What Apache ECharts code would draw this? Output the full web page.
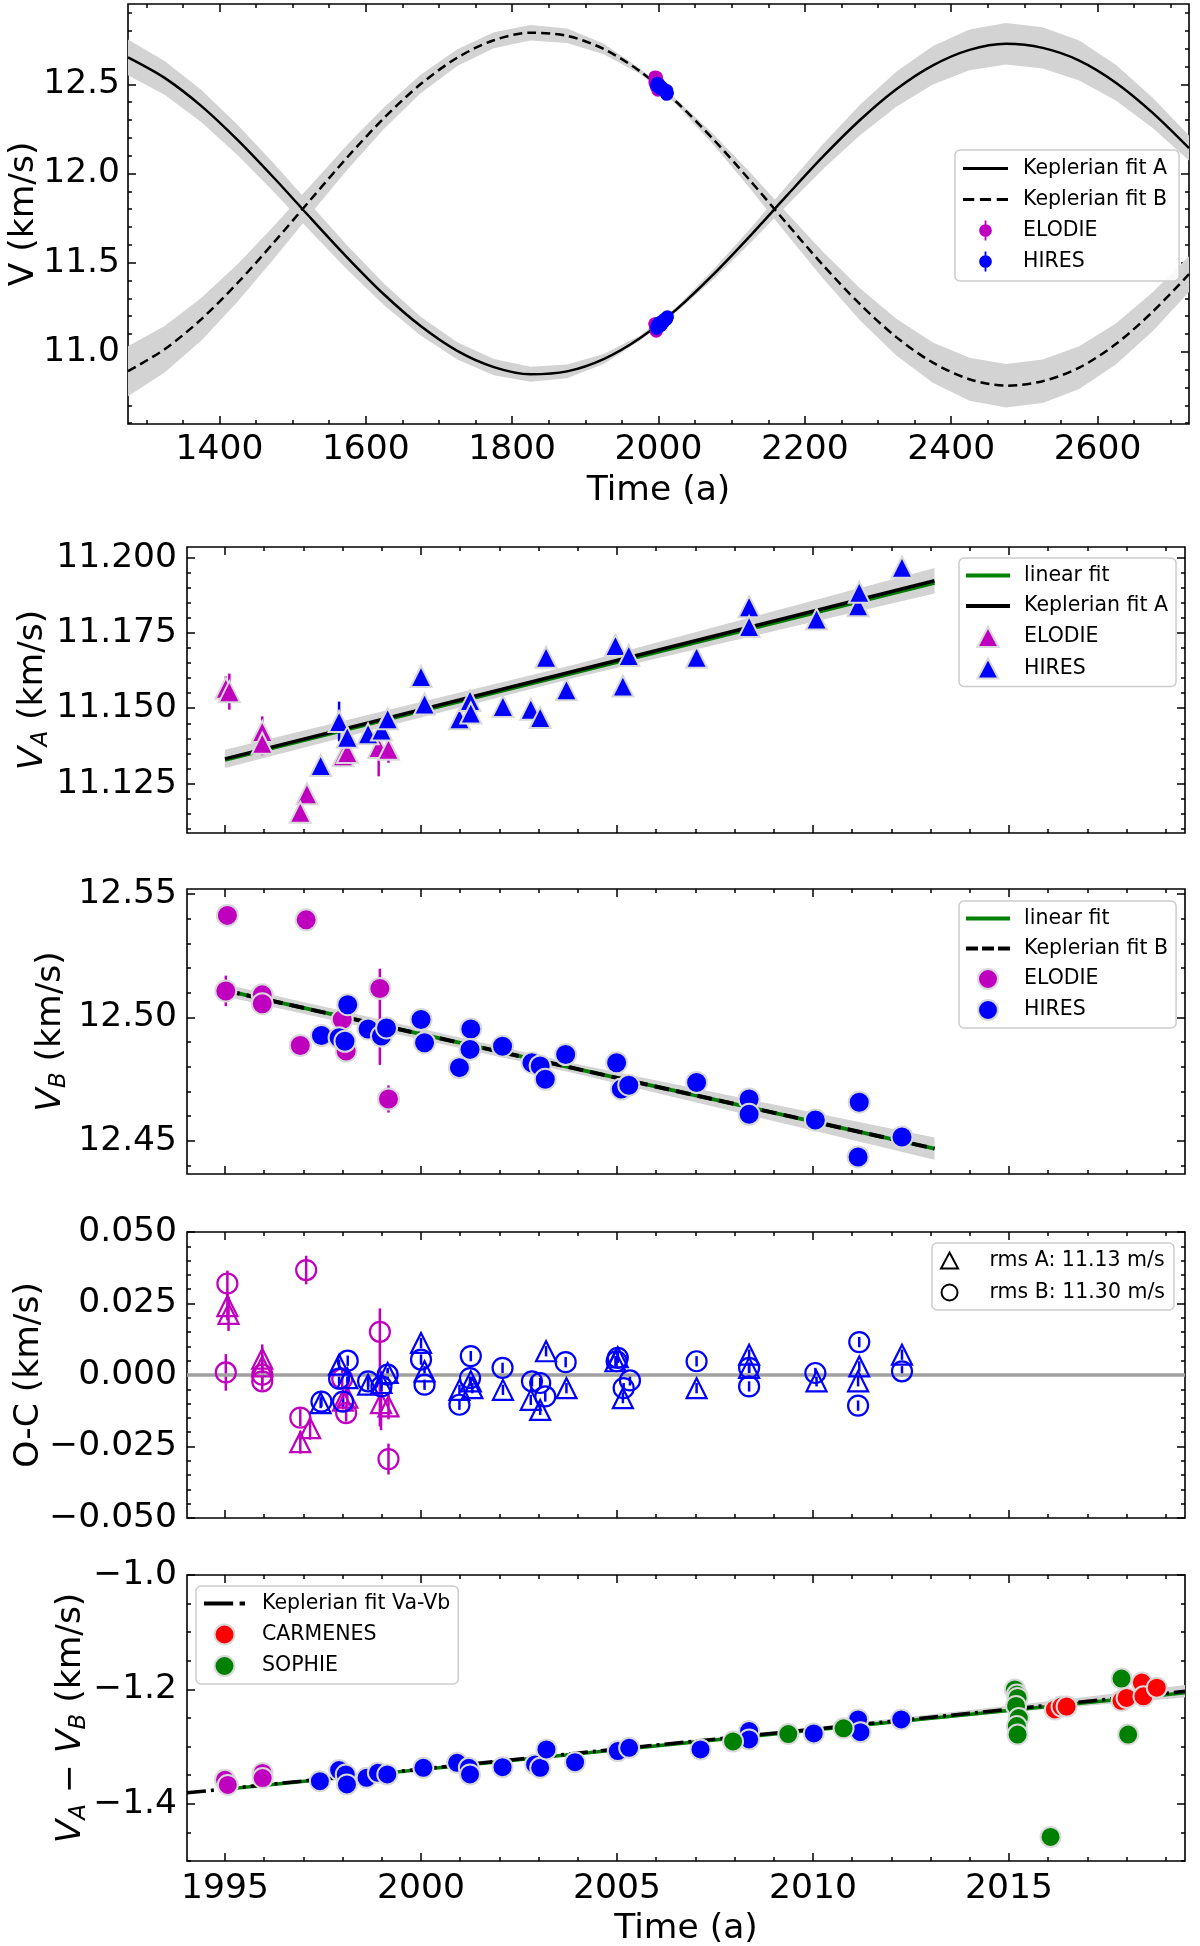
<!DOCTYPE html>
<html><head><meta charset="utf-8">
<script src="https://cdn.jsdelivr.net/npm/echarts@6/dist/echarts.min.js"></script>
<style>html,body{margin:0;padding:0;background:#fff}#c{width:1200px;height:1946px}</style>
</head><body><div id="c"></div>
<script>
// ---------------- Panel 1 : full Keplerian orbits ----------------
const p1Time  = [1275,1325,1375,1425,1475,1525,1575,1625,1675,1725,1775,1825,1875,1925,1975,2025,2075,2125,2175,2225,2275,2325,2375,2425,2475,2525,2575,2625,2675,2725];
const p1KepA  = [12.651,12.536,12.379,12.187,11.973,11.748,11.527,11.321,11.144,11.005,10.914,10.874,10.890,10.959,11.077,11.239,11.434,11.649,11.874,12.095,12.298,12.472,12.606,12.693,12.727,12.704,12.633,12.509,12.341,12.142];
const p1KepB  = [10.891,11.014,11.182,11.387,11.616,11.855,12.092,12.311,12.501,12.649,12.747,12.789,12.772,12.698,12.572,12.399,12.191,11.961,11.721,11.485,11.268,11.082,10.939,10.846,10.810,10.835,10.911,11.043,11.223,11.435];
const p1BandA = [0.100,0.095,0.090,0.085,0.080,0.075,0.068,0.060,0.053,0.048,0.045,0.042,0.038,0.028,0.014,0.014,0.027,0.040,0.055,0.070,0.085,0.098,0.108,0.114,0.116,0.116,0.112,0.100,0.085,0.070];
const p1BandB = [0.140,0.130,0.120,0.105,0.092,0.080,0.070,0.060,0.052,0.047,0.045,0.043,0.040,0.030,0.015,0.015,0.030,0.045,0.060,0.075,0.090,0.103,0.113,0.120,0.122,0.122,0.120,0.115,0.110,0.100];

// ---------------- Panel 2 : V_A ----------------
const vaElodieT = [1995.02,1995.11,1995.95,1995.95,1997.09,1996.92,1998.01,1998.12,1998.92,1999.17];
const vaElodieV = [11.1566,11.1555,11.1423,11.1384,11.1216,11.1155,11.1342,11.1353,11.1370,11.1364];
const vaElodieE = [0.004,0.006,0.005,0.004,0.003,0.003,0.003,0.003,[0.0096,0.004],0.0045];
const vaHiresT = [1997.44,1997.91,1998.12,1998.65,1998.99,1999.15,2000.00,2000.09,2000.98,2001.25,2001.27,2002.09,2002.80,2003.04,2003.19,2003.71,2004.96,2005.30,2005.15,2007.03,2008.37,2008.37,2010.09,2011.15,2011.18,2012.27];
const vaHiresV = [11.1310,11.1456,11.1404,11.1415,11.1428,11.1465,11.1605,11.1514,11.1465,11.1526,11.1484,11.1506,11.1497,11.1469,11.1669,11.1561,11.1708,11.1675,11.1574,11.1669,11.1837,11.1771,11.1796,11.1840,11.1885,11.1968];
const vaHiresE = [0.0017,0.0066,0.0017,0.0017,0.0017,0.0017,0.0017,0.0017,0.0017,0.0017,0.0017,0.0017,0.0017,0.0017,0.0017,0.0017,0.0017,0.0017,0.0017,0.0017,0.0017,0.0017,0.0017,0.0017,0.0017,0.0017];
const vaFitT = [1995.0,2004.0,2013.1];
const vaKep  = [11.1332,11.1626,11.1923];
const vaLin  = [11.1329,11.1621,11.1916];
const vaBandH = [0.0030,0.0022,0.0042];

// ---------------- Panel 3 : V_B ----------------
const vbElodieT = [1995.06,1997.07,1995.02,1995.95,1995.95,1996.92,1997.99,1998.09,1998.95,1999.17];
const vbElodieV = [12.5413,12.5395,12.5107,12.5091,12.5055,12.4886,12.4991,12.4863,12.5117,12.4669];
const vbElodieE = [0.003,0.003,0.0062,0.003,0.003,0.003,0.003,0.003,[0.031,0.008],0.0055];
const vbHiresT = [1997.46,1998.13,1997.91,1998.06,1998.65,1998.99,1999.12,2000.00,2000.09,2000.98,2001.27,2001.25,2002.08,2002.83,2003.04,2003.17,2003.69,2004.99,2005.11,2005.30,2007.03,2008.37,2008.37,2010.06,2011.18,2011.15,2012.27];
const vbHiresV = [12.4926,12.5051,12.4917,12.4903,12.4953,12.4924,12.4957,12.4991,12.4897,12.4796,12.4953,12.4870,12.4883,12.4816,12.4803,12.4749,12.4849,12.4816,12.4709,12.4725,12.4736,12.4669,12.4607,12.4584,12.4656,12.4434,12.4515];
const vbHiresE = [0.0017,0.0017,0.0017,0.0017,0.0017,0.0017,0.0017,0.0017,0.0017,0.0017,0.0017,0.0017,0.0017,0.0017,0.0017,0.0017,0.0017,0.0017,0.0017,0.0017,0.0017,0.0017,0.0017,0.0017,0.0017,0.0017,0.0017];
const vbFitT = [1995.0,2004.0,2013.1];
const vbKep  = [12.5109,12.4790,12.4468];
const vbLin  = [12.5109,12.4790,12.4468];
const vbBandH = [0.0025,0.0020,0.0045];

// ---------------- Panel 4 : O-C ----------------
const ocElodieAT = [1995.06,1995.09,1995.95,1995.95,1997.17,1996.92,1998.01,1998.12,1998.98,1999.17];
const ocElodieAV = [0.0241,0.0214,0.0057,0.0030,-0.0186,-0.0235,-0.0090,-0.0079,-0.0098,-0.0110];
const ocElodieAE = [0.005,0.006,0.005,0.004,0.004,0.004,0.003,0.003,0.0095,0.0045];
const ocElodieBT = [1995.06,1997.07,1995.02,1995.95,1995.95,1996.92,1997.99,1998.09,1998.95,1999.17];
const ocElodieBV = [0.0320,0.0367,0.0009,0.0001,-0.0022,-0.0149,-0.0013,-0.0133,0.0151,-0.0294];
const ocElodieBE = [0.0045,0.005,0.0064,0.003,0.003,0.003,0.003,0.003,[0.0331,0.0082],0.0054];
const ocHiresAT = [1997.91,1997.44,1998.12,1998.65,1998.99,1999.15,2000.00,2000.09,2000.98,2001.27,2001.31,2002.09,2002.80,2003.04,2003.19,2003.71,2004.96,2005.02,2005.15,2007.03,2008.37,2008.37,2010.09,2011.15,2011.18,2012.27];
const ocHiresAV = [0.0036,-0.0098,-0.0011,-0.0034,-0.0028,0.0007,0.0112,0.0013,-0.0052,-0.0022,-0.0046,-0.0052,-0.0087,-0.0122,0.0083,-0.0046,0.0048,0.0062,-0.0081,-0.0046,0.0071,0.0025,-0.0022,-0.0022,0.0030,0.0071];
const ocHiresBT = [1997.46,1998.13,1997.91,1998.01,1998.65,1998.99,1999.15,2000.00,2000.09,2000.98,2001.27,2001.25,2002.08,2002.83,2003.04,2003.17,2003.69,2004.99,2005.02,2005.17,2005.33,2007.03,2008.37,2008.37,2010.06,2011.18,2011.15,2012.27];
const ocHiresBV = [-0.0093,0.0050,-0.0013,-0.0093,-0.0022,-0.0040,0.0001,0.0054,-0.0034,-0.0104,0.0066,-0.0011,0.0025,-0.0022,-0.0028,-0.0075,0.0045,0.0048,0.0060,-0.0046,-0.0019,0.0048,0.0025,-0.0040,0.0007,0.0115,-0.0107,0.0013];
const ocHiresErr = 0.0018;
const zeroT = [1994.03,2019.49];
const zeroV = [0,0];

// ---------------- Panel 5 : V_A - V_B ----------------
const dElodieT = [1995.00,1995.07,1995.96,1995.96];
const dElodieV = [-1.358,-1.367,-1.346,-1.355];
const dHiresT = [1997.42,1997.91,1998.08,1998.11,1998.61,1998.90,1999.14,2000.06,2000.92,2001.22,2001.25,2002.08,2002.91,2003.04,2003.20,2003.93,2005.02,2005.31,2007.13,2008.37,2008.37,2010.02,2011.15,2011.21,2012.25];
const dHiresV = [-1.3604,-1.3411,-1.3487,-1.3662,-1.3546,-1.3458,-1.3487,-1.3371,-1.3283,-1.3371,-1.3487,-1.3359,-1.3312,-1.3371,-1.3050,-1.3272,-1.3079,-1.3021,-1.3050,-1.2729,-1.2875,-1.2770,-1.2525,-1.2747,-1.2525];
const dSophieT = [2007.96,2009.37,2010.78,2015.15,2015.20,2015.22,2015.18,2015.25,2015.20,2015.22,2016.06,2017.87,2018.04];
const dSophieV = [-1.291,-1.278,-1.268,-1.200,-1.209,-1.215,-1.229,-1.250,-1.264,-1.279,-1.458,-1.181,-1.279];
const dCarmT = [2016.17,2016.34,2016.47,2017.87,2018.00,2018.39,2018.43,2018.77];
const dCarmV = [-1.235,-1.230,-1.230,-1.220,-1.215,-1.188,-1.212,-1.197];
const dKepT = [1994.03,2005.0,2013.3,2019.49];
const dKep  = [-1.3808,-1.3043,-1.2468,-1.2033];
const dLinT = [1995.0,2019.49];
const dLin  = [-1.3745,-1.2060];
const dBandT = [2005.0,2012.0,2015.0,2017.0,2019.49];
const dBandC = [-1.3043,-1.2555,-1.2346,-1.2207,-1.2033];
const dBandH = [0.002,0.004,0.006,0.008,0.011];

// ---------------- ticks ----------------
const p1XTicks = [1400,1600,1800,2000,2200,2400,2600];
const p1YTicks = [11.0,11.5,12.0,12.5];
const timeTicks = [1995,2000,2005,2010,2015];
const vaTicks = [11.125,11.150,11.175,11.200];
const vbTicks = [12.45,12.50,12.55];
const ocTicks = [-0.050,-0.025,0,0.025,0.050];
const dTicks = [-1.4,-1.2,-1.0];

function steps(a, b, s) { const o = []; const n = Math.round((b - a) / s); for (let i = 0; i <= n; i++) o.push(+(a + i * s).toFixed(6)); return o; }

const FONT = 'DejaVu Sans';
const TICKFS = 34.5, NAMEFS = 34.5, LEGFS = 20.5;
const MAG = '#bf00bf', BLU = '#0000ff', GRN = '#008000', RED = '#ff0000', EDGE = '#d9d9d9', BAND = '#d3d3d3';

function fmt(n) { return v => (v < 0 ? '\u2212' + Math.abs(v).toFixed(n) : v.toFixed(n)); }

const gridBox = [
  {left:128, top:4, width:1061, height:420},
  {left:187, top:547, width:998, height:286},
  {left:187, top:889, width:998, height:285},
  {left:187, top:1232, width:998, height:286},
  {left:187, top:1575, width:998, height:286}
];
const grids = gridBox.map(g => Object.assign({}, g, {show:true, borderColor:'#000', borderWidth:1.6, backgroundColor:'transparent', containLabel:false, outerBoundsMode:'none'}));

const xAxes = [], yAxes = [];
function addAxes(list, g, dim, range, major, minor, o) {
  const pos = dim === 'x' ? ['bottom','top'] : ['left','right'];
  pos.forEach((p, pi) => {
    [true, false].forEach(isMajor => {
      const a = {type:'value', gridIndex:g, position:p, min:range[0], max:range[1],
        splitLine:{show:false}, axisLine:{show:false, onZero:false},
        axisTick:{show:true, inside:true, length: isMajor ? 8 : 4, customValues: isMajor ? major : minor, lineStyle:{color:'#000', width:1.5}},
        axisLabel:{show:false}, axisPointer:{show:false}, silent:true, nameMoveOverlap:false};
      if (pi === 0 && isMajor) {
        if (o.labels) a.axisLabel = {show:true, customValues: major, formatter:o.fmt, fontSize:TICKFS, fontFamily:FONT, color:'#000', margin:o.margin};
        if (o.name) {
          a.name = o.name; a.nameLocation = 'middle'; a.nameGap = o.nameGap;
          a.nameTextStyle = {fontSize:NAMEFS, fontFamily:FONT, color:'#000', lineHeight:36,
            rich:{i:{fontSize:NAMEFS, fontFamily:FONT, fontStyle:'italic', lineHeight:40, color:'#000'},
                  s:{fontSize:23, fontFamily:FONT, fontStyle:'italic', lineHeight:23, verticalAlign:'bottom', color:'#000'},
                  n:{fontSize:NAMEFS, fontFamily:FONT, lineHeight:40, color:'#000'}}};
        }
      }
      list.push(a);
    });
  });
}
const TR = [1994.03, 2019.49];
addAxes(xAxes, 0, 'x', [1275, 2725], p1XTicks, steps(1300, 2700, 50), {labels:true, fmt:v => String(v), margin:9, name:'Time (a)', nameGap:49});
addAxes(yAxes, 0, 'y', [10.595, 12.95], p1YTicks, steps(10.6, 12.9, 0.1), {labels:true, fmt:fmt(1), margin:8, name:'V (km/s)', nameGap:86});
addAxes(xAxes, 1, 'x', TR, timeTicks, steps(1995, 2019, 1), {labels:false});
addAxes(yAxes, 1, 'y', [11.1086, 11.2035], vaTicks, steps(11.110, 11.200, 0.005), {labels:true, fmt:fmt(3), margin:10, name:'{i|V}{s|A}{n| (km/s)}', nameGap:134});
addAxes(xAxes, 2, 'x', TR, timeTicks, steps(1995, 2019, 1), {labels:false});
addAxes(yAxes, 2, 'y', [12.4365, 12.552], vbTicks, steps(12.44, 12.55, 0.01), {labels:true, fmt:fmt(2), margin:10, name:'{i|V}{s|B}{n| (km/s)}', nameGap:116});
addAxes(xAxes, 3, 'x', TR, timeTicks, steps(1995, 2019, 1), {labels:false});
addAxes(yAxes, 3, 'y', [-0.05, 0.05], ocTicks, steps(-0.05, 0.05, 0.005), {labels:true, fmt:fmt(3), margin:10, name:'O-C (km/s)', nameGap:140});
addAxes(xAxes, 4, 'x', TR, timeTicks, steps(1995, 2019, 1), {labels:true, fmt:v => String(v), margin:11, name:'Time (a)', nameGap:50});
addAxes(yAxes, 4, 'y', [-1.5, -1.0], dTicks, steps(-1.5, -1.0, 0.05), {labels:true, fmt:fmt(1), margin:10, name:'{i|V}{s|A}{n| \u2212 }{i|V}{s|B}{n| (km/s)}', nameGap:96});

const series = [];
function ax(g) { return {xAxisIndex:4 * g, yAxisIndex:4 * g}; }
function zip(t, v) { return t.map((x, i) => [x, v[i]]); }
function lineS(g, name, t, v, color, width, type, smooth) {
  series.push(Object.assign({type:'line', name, data:zip(t, v), symbol:'none', showSymbol:false, smooth:smooth || false, clip:true, silent:true,
    lineStyle:{color, width, type:type || 'solid', cap:'butt'}, itemStyle:{color}, emphasis:{disabled:true}, z:2}, ax(g)));
}
function bandS(g, t, c, h) {
  const pts = t.map((x, i) => [x, c[i] - h[i], c[i] + h[i]]);
  series.push(Object.assign({type:'custom', clip:true, silent:true, z:2, data:[[t[0], c[0]]],
    renderItem:(p, api) => {
      const up = pts.map(q => api.coord([q[0], q[2]]));
      const lo = pts.map(q => api.coord([q[0], q[1]])).reverse();
      return {type:'polygon', shape:{points:up.concat(lo)}, style:{fill:BAND}};
    }}, ax(g)));
}
function errS(g, t, v, e, color, width) {
  const data = t.map((x, i) => {
    const ee = Array.isArray(e) ? e[i] : e;
    const lo = Array.isArray(ee) ? ee[0] : ee, hi = Array.isArray(ee) ? ee[1] : ee;
    return [x, v[i], v[i] - lo, v[i] + hi];
  });
  series.push(Object.assign({type:'custom', clip:true, silent:true, z:2, data, encode:{x:0, y:1},
    renderItem:(p, api) => {
      const a = api.coord([api.value(0), api.value(2)]);
      const b = api.coord([api.value(0), api.value(3)]);
      return {type:'line', shape:{x1:a[0], y1:a[1], x2:b[0], y2:b[1]}, style:{stroke:color, lineWidth:width}};
    }}, ax(g)));
}
function scatS(g, name, t, v, symbol, size, fill, stroke, bw) {
  series.push(Object.assign({type:'scatter', name, data:zip(t, v), symbol, symbolSize:size, clip:true, silent:true, z:2,
    itemStyle:{color:fill, borderColor:stroke, borderWidth:bw, opacity:1}, emphasis:{disabled:true}}, ax(g)));
}

// Panel 1
bandS(0, p1Time, p1KepA, p1BandA);
bandS(0, p1Time, p1KepB, p1BandB);
lineS(0, 'Keplerian fit A|1', p1Time, p1KepA, '#000', 2.5, 'solid', 0.3);
lineS(0, 'Keplerian fit B|1', p1Time, p1KepB, '#000', 2.5, [9, 5], 0.3);
errS(0, vaElodieT.concat(vbElodieT), vaElodieV.concat(vbElodieV), 0.004, MAG, 2);
scatS(0, 'ELODIE|1', vaElodieT.concat(vbElodieT), vaElodieV.concat(vbElodieV), 'circle', 13, MAG, MAG, 0);
errS(0, vaHiresT.concat(vbHiresT), vaHiresV.concat(vbHiresV), 0.004, BLU, 2);
scatS(0, 'HIRES|1', vaHiresT.concat(vbHiresT), vaHiresV.concat(vbHiresV), 'circle', 13, BLU, BLU, 0);

// Panel 2
bandS(1, vaFitT, vaKep, vaBandH);
lineS(1, 'linear fit|2', vaFitT, vaLin, GRN, 4);
lineS(1, 'Keplerian fit A|2', vaFitT, vaKep, '#000', 3.5);
errS(1, vaElodieT, vaElodieV, vaElodieE, MAG, 2.5);
scatS(1, 'ELODIE|2', vaElodieT, vaElodieV, 'triangle', 21, MAG, EDGE, 2);
errS(1, vaHiresT, vaHiresV, vaHiresE, BLU, 2.5);
scatS(1, 'HIRES|2', vaHiresT, vaHiresV, 'triangle', 21, BLU, EDGE, 2);

// Panel 3
bandS(2, vbFitT, vbKep, vbBandH);
lineS(2, 'linear fit|3', vbFitT, vbLin, GRN, 4);
lineS(2, 'Keplerian fit B|3', vbFitT, vbKep, '#000', 4, [15, 7]);
errS(2, vbElodieT, vbElodieV, vbElodieE, MAG, 2.5);
scatS(2, 'ELODIE|3', vbElodieT, vbElodieV, 'circle', 21, MAG, EDGE, 2);
errS(2, vbHiresT, vbHiresV, vbHiresE, BLU, 2.5);
scatS(2, 'HIRES|3', vbHiresT, vbHiresV, 'circle', 21, BLU, EDGE, 2);

// Panel 4
lineS(3, 'zero|4', zeroT, zeroV, '#a0a0a0', 3.5);
errS(3, ocElodieAT, ocElodieAV, ocElodieAE, MAG, 2.5);
scatS(3, 'elodieA|4', ocElodieAT, ocElodieAV, 'triangle', 20, 'rgba(0,0,0,0)', MAG, 2.2);
errS(3, ocElodieBT, ocElodieBV, ocElodieBE, MAG, 2.5);
scatS(3, 'elodieB|4', ocElodieBT, ocElodieBV, 'circle', 20, 'rgba(0,0,0,0)', MAG, 2.2);
errS(3, ocHiresAT, ocHiresAV, ocHiresErr, BLU, 2.5);
scatS(3, 'hiresA|4', ocHiresAT, ocHiresAV, 'triangle', 20, 'rgba(0,0,0,0)', BLU, 2.2);
errS(3, ocHiresBT, ocHiresBV, ocHiresErr, BLU, 2.5);
scatS(3, 'hiresB|4', ocHiresBT, ocHiresBV, 'circle', 20, 'rgba(0,0,0,0)', BLU, 2.2);
scatS(3, 'rms A: 11.13 m/s|4', [], [], 'triangle', 16, '#fff', '#000', 2);
scatS(3, 'rms B: 11.30 m/s|4', [], [], 'circle', 16, '#fff', '#000', 2);

// Panel 5
bandS(4, dBandT, dBandC, dBandH);
lineS(4, 'linear fit|5', dLinT, dLin, GRN, 3.5);
lineS(4, 'Keplerian fit Va-Vb|5', dKepT, dKep, '#000', 3.5, [19, 5, 3, 5]);
scatS(4, 'ELODIE|5', dElodieT, dElodieV, 'circle', 20, MAG, EDGE, 2);
scatS(4, 'HIRES|5', dHiresT, dHiresV, 'circle', 20, BLU, EDGE, 2);
scatS(4, 'SOPHIE|5', dSophieT, dSophieV, 'circle', 20, GRN, EDGE, 2);
scatS(4, 'CARMENES|5', dCarmT, dCarmV, 'circle', 20, RED, EDGE, 2);

// Legend icons
const SOLID = 'path://M0,0H44V3H0Z';
const SOLID4 = 'path://M0,0H44V4H0Z';
const DASH = 'path://M0,0H11V3H0Z M16.5,0H27.5V3H16.5Z M33,0H44V3H33Z';
const DASH4 = 'path://M0,0H12V4H0Z M16,0H28V4H16Z M32,0H44V4H32Z';
const DASHDOT = 'path://M0,0H27V3.5H0Z M33,0H38V3.5H33Z';
const ERRDOT = 'path://M6,0H8V22H6Z M0,11A7,7 0 1,1 14,11A7,7 0 1,1 0,11Z';
const TRI = 'path://M10,0L20,19L0,19Z';

function legendBase(left, top, pad, iw, ih, gap, textPad) {
  return {orient:'vertical', left, top, padding:pad, itemWidth:iw, itemHeight:ih, itemGap:gap, symbolKeepAspect:true,
    backgroundColor:'rgba(255,255,255,0.85)', borderColor:'#cccccc', borderWidth:1.5, borderRadius:5,
    selectedMode:false, formatter:n => n.split('|')[0],
    textStyle:{fontSize:LEGFS, fontFamily:FONT, color:'#000', padding:[0, 0, 0, textPad], lineHeight:20}};
}
const legends = [
  Object.assign(legendBase(955, 150, [8, 12, 9, 8], 45, 20, 10, 10), {data:[
    {name:'Keplerian fit A|1', icon:SOLID, itemStyle:{color:'#000', borderWidth:0}},
    {name:'Keplerian fit B|1', icon:DASH, itemStyle:{color:'#000', borderWidth:0}},
    {name:'ELODIE|1', icon:ERRDOT, itemStyle:{color:MAG, borderWidth:0}},
    {name:'HIRES|1', icon:ERRDOT, itemStyle:{color:BLU, borderWidth:0}}]}),
  Object.assign(legendBase(959, 558, [7, 8, 7, 7], 44, 20, 9.5, 9), {data:[
    {name:'linear fit|2', icon:SOLID4, itemStyle:{color:GRN, borderWidth:0}},
    {name:'Keplerian fit A|2', icon:SOLID4, itemStyle:{color:'#000', borderWidth:0}},
    {name:'ELODIE|2', icon:TRI}, {name:'HIRES|2', icon:TRI}]}),
  Object.assign(legendBase(959, 901, [7, 8, 7, 7], 44, 20, 9, 9), {data:[
    {name:'linear fit|3', icon:SOLID4, itemStyle:{color:GRN, borderWidth:0}},
    {name:'Keplerian fit B|3', icon:DASH4, itemStyle:{color:'#000', borderWidth:0}},
    {name:'ELODIE|3'}, {name:'HIRES|3'}]}),
  Object.assign(legendBase(932, 1243, [7, 9, 7, 8], 30, 16, 11, 20), {data:[
    {name:'rms A: 11.13 m/s|4', icon:'path://M8,0L16,15L0,15Z', itemStyle:{color:'#fff', borderColor:'#000', borderWidth:2}},
    {name:'rms B: 11.30 m/s|4', icon:'circle', itemStyle:{color:'#fff', borderColor:'#000', borderWidth:2}}]}),
  Object.assign(legendBase(196, 1586, [7, 8, 7, 8], 41, 20, 9.5, 12), {data:[
    {name:'Keplerian fit Va-Vb|5', icon:DASHDOT, itemStyle:{color:'#000', borderWidth:0}},
    {name:'CARMENES|5'}, {name:'SOPHIE|5'}]})
];

const chart = echarts.init(document.getElementById('c'), null, {renderer:'canvas'});
chart.setOption({
  animation:false,
  backgroundColor:'#fff',
  textStyle:{fontFamily:FONT},
  grid:grids, xAxis:xAxes, yAxis:yAxes,
  legend:legends,
  series
});
</script></body></html>
